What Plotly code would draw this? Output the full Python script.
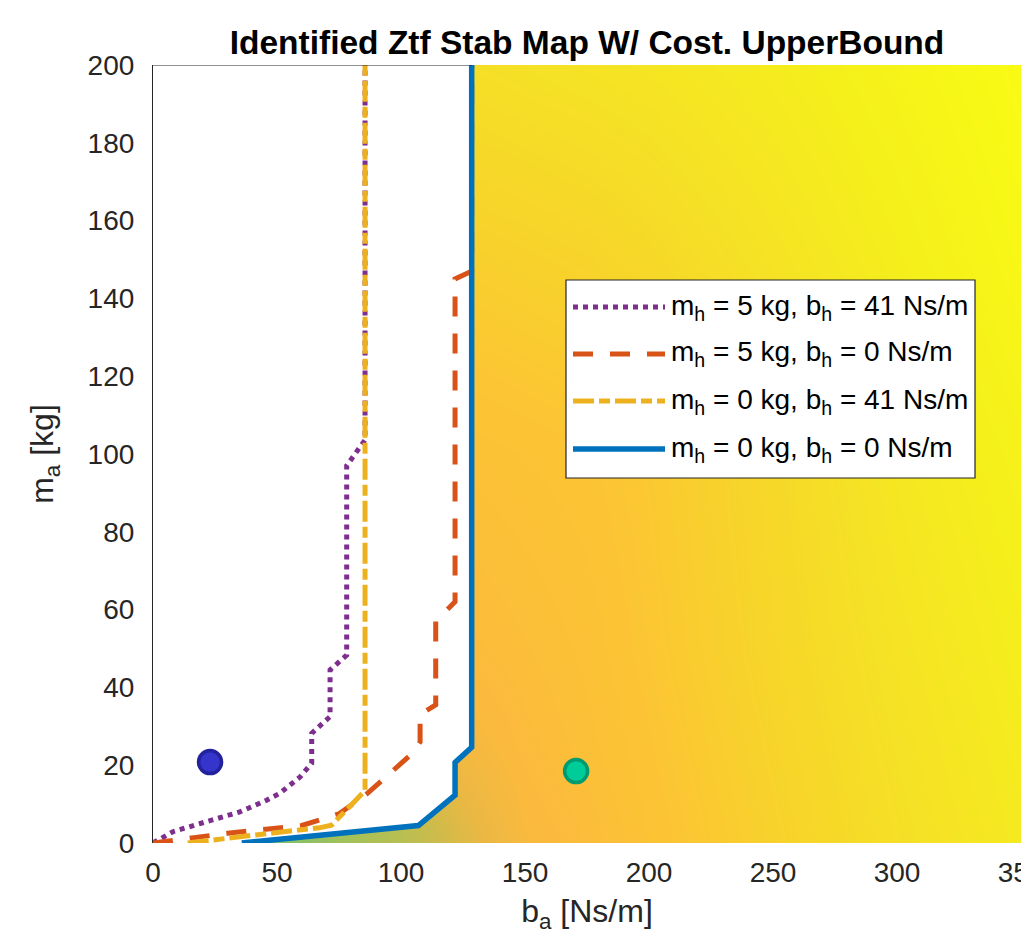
import plotly.graph_objects as go

# ---- data ----
# heatmap grid (cost values, estimated from colours)
grid_b = [0, 50, 100, 125, 150, 175, 200, 250, 300, 350]
grid_m = [0, 25, 50, 100, 150, 200]
cost_z = [
    [0.58, 0.64, 0.72, 0.78, 0.83, 0.85, 0.87, 0.90, 0.93, 0.955],
    [0.62, 0.68, 0.76, 0.82, 0.845, 0.86, 0.875, 0.905, 0.935, 0.96],
    [0.70, 0.75, 0.81, 0.845, 0.855, 0.865, 0.88, 0.91, 0.94, 0.965],
    [0.80, 0.83, 0.86, 0.865, 0.87, 0.875, 0.885, 0.915, 0.95, 0.975],
    [0.87, 0.88, 0.89, 0.895, 0.90, 0.905, 0.915, 0.94, 0.965, 0.99],
    [0.92, 0.925, 0.93, 0.93, 0.935, 0.94, 0.945, 0.96, 0.98, 1.0],
]

# stability boundaries
purple_b = [0, 8, 21.6, 35, 45.8, 51.2, 59.3, 64, 64, 71.4, 71.4, 78.1, 78.1, 85.5, 85.5]
purple_m = [0, 2.9, 5.5, 8, 11, 12.8, 17, 20.5, 28.2, 32.5, 44.5, 48.3, 97, 103.6, 200]

orange_b = [0, 30, 60, 75, 86, 104.5, 107.7, 107.7, 114, 114, 121.8, 121.8, 128.5, 128.5]
orange_m = [0, 2.5, 4.5, 7.5, 12.5, 23, 26, 33, 35.5, 57, 62, 145, 147, 200]

yellow_b = [14, 26, 43, 67, 72, 78, 85.5, 85.5]
yellow_m = [0, 0.8, 2.2, 3.9, 4.6, 8.5, 13.5, 200]

blue_b = [35.8, 107, 121.8, 121.8, 128.5, 128.5]
blue_m = [0, 4.5, 12.3, 20.7, 24.6, 200]

# identified points
pt1_b, pt1_m = [23], [20.8]
pt2_b, pt2_m = [170.6], [18.5]

legend_labels = [
    "m<sub>h</sub> = 5 kg, b<sub>h</sub> = 41 Ns/m",
    "m<sub>h</sub> = 5 kg, b<sub>h</sub> = 0 Ns/m",
    "m<sub>h</sub> = 0 kg, b<sub>h</sub> = 41 Ns/m",
    "m<sub>h</sub> = 0 kg, b<sub>h</sub> = 0 Ns/m",
]

X_RANGE = [0, 350]
Y_RANGE = [0, 200]

# ---- styles ----
PURPLE = "#7E2F8E"
ORANGE = "#D95319"
YELLOW = "#EDB120"
BLUE = "#0072BD"
FONT = "Liberation Sans, Arial, sans-serif"

parula = [
    [0.0, "#3E26A8"], [0.125, "#0363E1"], [0.25, "#1485D4"], [0.375, "#06A7C6"],
    [0.5, "#20B2AA"], [0.62, "#71BF75"], [0.69, "#A6C158"], [0.75, "#C8BC4C"],
    [0.80, "#EBB843"], [0.84, "#FCBA3D"], [0.875, "#FCC434"], [0.905, "#F7D42A"],
    [0.94, "#F5E324"], [0.97, "#F5F01A"], [1.0, "#F9FB14"],
]

styles = [
    (purple_b, purple_m, PURPLE, "dot", 5),
    (orange_b, orange_m, ORANGE, "20px,17px", 5),
    (yellow_b, yellow_m, YELLOW, "21px,5px,11px,5px", 5),
    (blue_b, blue_m, BLUE, "solid", 5.5),
]

# page body has an 8px margin: figure is sized to fit the window
FIG_W, FIG_H = 1021, 926
PLOT_L, PLOT_T, PLOT_W, PLOT_H = 145, 57, 868, 778   # in figure pixels


def px(xs):   # screen x -> paper
    return (xs - 8 - PLOT_L) / PLOT_W


def py(ys):   # screen y -> paper
    return (PLOT_T + PLOT_H - (ys - 8)) / PLOT_H


fig = go.Figure()

fig.add_trace(go.Heatmap(
    x=grid_b, y=grid_m, z=cost_z, colorscale=parula, zmin=0, zmax=1,
    zsmooth="best", showscale=False, hoverinfo="skip",
))

# white stable region bounded by the m_h=0,b_h=0 boundary
fig.add_trace(go.Scatter(
    x=[X_RANGE[0]] + blue_b + [X_RANGE[0]],
    y=[Y_RANGE[0]] + blue_m + [Y_RANGE[1]],
    mode="lines", fill="toself", fillcolor="white",
    line=dict(width=0, color="white"), showlegend=False, hoverinfo="skip",
))

for (bx, my, col, dash, w), lab in zip(styles, legend_labels):
    fig.add_trace(go.Scatter(
        x=bx, y=my, mode="lines", name=lab,
        line=dict(color=col, width=w, dash=dash), showlegend=False,
    ))

fig.add_trace(go.Scatter(
    x=pt1_b, y=pt1_m, mode="markers", showlegend=False,
    marker=dict(size=23, color="#3535CC", line=dict(color="#22229C", width=3.5)),
))
fig.add_trace(go.Scatter(
    x=pt2_b, y=pt2_m, mode="markers", showlegend=False,
    marker=dict(size=23, color="#00CC99", line=dict(color="#009A70", width=3.5)),
))

# partial box lines (only visible over the white region in the reference)
shapes = [
    dict(type="line", xref="x", yref="y", x0=X_RANGE[0], x1=blue_b[-1],
         y0=Y_RANGE[1], y1=Y_RANGE[1], line=dict(color="#262626", width=1.2), layer="above"),
    dict(type="line", xref="x", yref="y", x0=X_RANGE[0], x1=blue_b[0],
         y0=Y_RANGE[0], y1=Y_RANGE[0], line=dict(color="#262626", width=1.2), layer="below"),
]

# custom legend (MATLAB-like long line samples)
shapes.append(dict(type="rect", xref="paper", yref="paper", x0=px(566), x1=px(975),
                   y0=py(478), y1=py(280), fillcolor="white",
                   line=dict(color="#262626", width=1.2), layer="above"))
annotations = []
row_py = [307, 354, 401, 449]
for (bx, my, col, dash, w), lab, ry in zip(styles, legend_labels, row_py):
    yy = py(ry)
    shapes.append(dict(type="line", xref="paper", yref="paper",
                       x0=px(573), x1=px(665), y0=yy, y1=yy,
                       line=dict(color=col, width=w, dash=dash), layer="above"))
    annotations.append(dict(xref="paper", yref="paper", x=px(669), y=yy,
                            xanchor="left", yanchor="middle", text=lab, showarrow=False,
                            font=dict(family=FONT, size=28, color="black")))

fig.update_layout(
    width=FIG_W, height=FIG_H,
    margin=dict(l=PLOT_L, r=FIG_W - PLOT_L - PLOT_W, t=PLOT_T, b=FIG_H - PLOT_T - PLOT_H),
    paper_bgcolor="white", plot_bgcolor="white",
    font=dict(family=FONT, color="#262626"),
    title=dict(text="<b>Identified Ztf Stab Map W/ Cost. UpperBound</b>",
               x=0.5, xref="paper", xanchor="center", y=1 - (42 - 8) / FIG_H, yanchor="middle",
               font=dict(family=FONT, size=33.5, color="black")),
    shapes=shapes, annotations=annotations, showlegend=False,
)
fig.update_xaxes(
    range=X_RANGE, tickvals=[0, 50, 100, 150, 200, 250, 300, 350],
    showgrid=False, zeroline=False, showline=False, ticks="", automargin=False,
    ticklabeloverflow="allow",
    tickfont=dict(family=FONT, size=28, color="#262626"), ticklabelstandoff=10,
    title=dict(text="b<sub>a</sub> [Ns/m]", font=dict(family=FONT, size=32, color="#262626"),
               standoff=18),
)
fig.update_yaxes(
    range=Y_RANGE, tickvals=list(range(0, 201, 20)), automargin=False,
    showgrid=False, zeroline=False, showline=True, linecolor="#262626", linewidth=1.2,
    ticks="", tickfont=dict(family=FONT, size=28, color="#262626"), ticklabelstandoff=12,
    title=dict(text="m<sub>a</sub> [kg]", font=dict(family=FONT, size=32, color="#262626"),
               standoff=24),
)

fig.write_html("out.html")
